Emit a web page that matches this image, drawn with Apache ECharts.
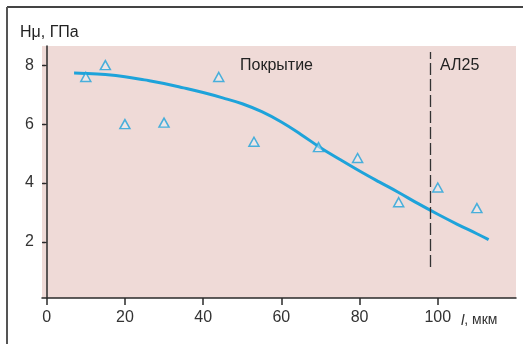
<!DOCTYPE html>
<html>
<head>
<meta charset="utf-8">
<script src="https://cdn.jsdelivr.net/npm/echarts@6/dist/echarts.min.js"></script>
<style>
  html, body { margin: 0; padding: 0; background: #ffffff; }
  #chart { width: 529px; height: 344px; }
</style>
</head>
<body>
<div id="chart"></div>
<script>
// Microhardness measurements across the coating depth
const depthPoints = [10, 15, 20, 30, 44, 53, 69.5, 79.5, 90, 100, 110];
const hardnessPoints = [7.6, 8.0, 6.0, 6.05, 7.6, 5.4, 5.22, 4.85, 3.35, 3.85, 3.15];

// Fitted trend curve
const curveDepth = [7, 10, 15, 20, 25, 30, 35, 40, 45, 50, 55, 60, 65, 70, 75, 80, 85, 90, 95, 100, 105, 110, 113];
const curveHardness = [7.73, 7.72, 7.68, 7.61, 7.5, 7.38, 7.23, 7.07, 6.89, 6.69, 6.42, 6.07, 5.65, 5.2, 4.8, 4.41, 4.04, 3.68, 3.3, 2.94, 2.6, 2.28, 2.08];

// Tick labels
const xTicks = [0, 20, 40, 60, 80, 100];
const yTicks = [2, 4, 6, 8];

// Boundary between coating and substrate
const boundaryDepth = 98;
const boundaryRange = [1.15, 8.45];

const blue = '#1ea3da';
const axisColor = '#2a2a2a';
const font = '"Liberation Sans", Arial, sans-serif';

const chart = echarts.init(document.getElementById('chart'), null, { renderer: 'canvas' });

chart.setOption({
  animation: false,
  backgroundColor: '#ffffff',
  grid: {
    left: 42, top: 46, right: 13, bottom: 46,
    show: true, backgroundColor: '#efdad7', borderWidth: 0
  },
  xAxis: {
    type: 'value', min: -1.2, max: 120,
    axisLine: { show: true, lineStyle: { color: axisColor, width: 1.5 } },
    axisTick: { show: true, customValues: xTicks, length: 7, lineStyle: { color: axisColor, width: 1.5 } },
    axisLabel: { customValues: xTicks, margin: 12, fontSize: 16, color: '#333', fontFamily: font },
    splitLine: { show: false }
  },
  yAxis: [{
    type: 'value', min: 0.1, max: 8.65,
    axisLine: { show: true, lineStyle: { color: axisColor, width: 1.5 } },
    axisTick: { show: true, customValues: yTicks, length: 4, lineStyle: { color: axisColor, width: 1.3 } },
    axisLabel: { customValues: yTicks, margin: 8, fontSize: 16, color: '#333', fontFamily: font },
    splitLine: { show: false }
  }, {
    type: 'value', min: 0.1, max: 8.65, position: 'left',
    axisLine: { show: false },
    axisTick: { show: true, inside: true, customValues: yTicks, length: 3, lineStyle: { color: axisColor, width: 1.3 } },
    axisLabel: { show: false },
    splitLine: { show: false }
  }],
  series: [{
    type: 'line',
    data: curveDepth.map((d, i) => [d, curveHardness[i]]),
    smooth: 0.4,
    showSymbol: false,
    lineStyle: { color: blue, width: 3 },
    z: 2,
    markLine: {
      silent: true,
      symbol: 'none',
      label: { show: false },
      lineStyle: { color: '#333', width: 1.3, type: [12, 4] },
      data: [[{ coord: [boundaryDepth, boundaryRange[0]] }, { coord: [boundaryDepth, boundaryRange[1]] }]]
    }
  }, {
    type: 'scatter',
    data: depthPoints.map((d, i) => [d, hardnessPoints[i]]),
    symbol: 'triangle',
    symbolSize: [10, 9],
    itemStyle: { color: 'rgba(235,240,246,0.6)', borderColor: blue, borderWidth: 1.5 },
    z: 3
  }],
  graphic: [
    { type: 'line', shape: { x1: 7, y1: 7, x2: 523, y2: 7 }, style: { stroke: '#444', lineWidth: 2 } },
    { type: 'line', shape: { x1: 7, y1: 7, x2: 7, y2: 344 }, style: { stroke: '#555', lineWidth: 2 } },
    { type: 'text', left: 20, top: 25, style: { text: 'Hμ, ГПа', fontSize: 16, fill: '#222', font: '16px ' + font } },
    { type: 'text', left: 240, top: 58, style: { text: 'Покрытие', fill: '#222', font: '16px ' + font } },
    { type: 'text', left: 440, top: 58, style: { text: 'АЛ25', fill: '#222', font: '16px ' + font, letterSpacing: 1 } },
    {
      type: 'text', left: 461, top: 313,
      style: {
        text: '{i|l}{n|, мкм}',
        rich: {
          i: { fontStyle: 'italic', fontSize: 15, fontFamily: font, fill: '#333' },
          n: { fontSize: 14, fontFamily: font, fill: '#333' }
        }
      }
    }
  ]
});
</script>
</body>
</html>
